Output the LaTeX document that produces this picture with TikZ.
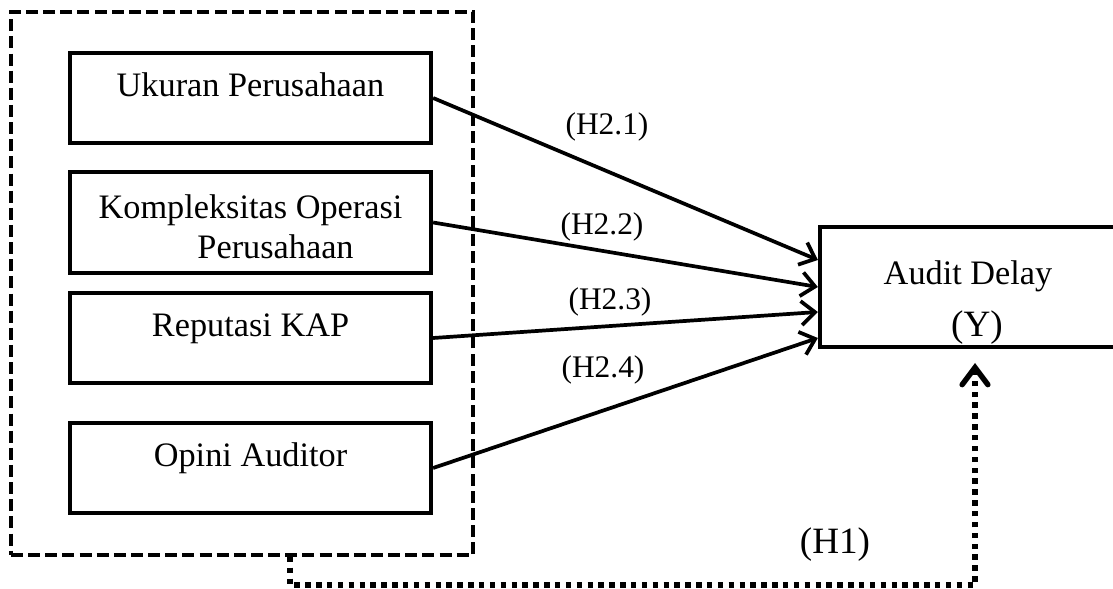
\documentclass[tikz,border=0pt]{standalone}
\usepackage{fontspec}
\setmainfont{Liberation Serif}
\usetikzlibrary{arrows.meta}

\tikzset{
  varbox/.style={draw,line width=1.5pt,minimum width=126.35pt,minimum height=31.5pt,inner sep=0pt},
  grpbox/.style={draw,line width=1.3pt,dash pattern=on 4.2pt off 1.8pt,minimum width=161.7pt,minimum height=190.05pt,inner sep=0pt},
  ybox/.style={draw,line width=1.5pt,minimum width=106.75pt,minimum height=42pt,inner sep=0pt},
  txt/.style={anchor=base,inner sep=0pt,font=\fontsize{12}{14}\selectfont},
  hlab/.style={anchor=base,inner sep=0pt,font=\fontsize{11}{13}\selectfont},
  hyp/.style={-{Straight Barb[length=4.8pt,width=8.4pt]},line width=1.3pt},
  h1path/.style={-{Straight Barb[length=6pt,width=9pt,line cap=round]},line width=1.9pt,dash pattern=on 1.9pt off 1.9pt}
}

\begin{document}
\begin{tikzpicture}[x=0.35pt,y=-0.35pt]
  \clip (0,0) rectangle (1113,589);
  % independent variables
  \node[grpbox] (grp) at (242,283.5) {};
  \node[varbox] (ukuran) at (250.5,98) {};
  \node[varbox,minimum height=35.35pt] (kompleks) at (250.5,222.5) {};
  \node[varbox] (kap) at (250.5,338) {};
  \node[varbox] (opini) at (250.5,468) {};
  \node[txt] (ukurantxt) at (250.5,97) {Ukuran Perusahaan};
  \node[txt,anchor=center,align=left] (komplekstxt) at (250.5,227) {Kompleksitas Operasi\\\hspace*{34.6pt}Perusahaan};
  \node[txt] (kaptxt) at (250.5,337) {Reputasi KAP};
  \node[txt] (opinitxt) at (250.5,467) {Opini Auditor};
  % dependent variable
  \node[ybox] (audit) at (972.5,287) {};
  \node[txt] (audittxt) at (968,285) {Audit Delay};
  \node[txt,font=\fontsize{13}{15}\selectfont] (ytxt) at (977,337) {(Y)};
  % hypotheses
  \draw[hyp] (ukuran.east) -- ([yshift=9.45pt]audit.west);
  \draw[hyp] (kompleks.east) -- (audit.west);
  \draw[hyp] (kap.east) -- ([yshift=-8.75pt]audit.west);
  \draw[hyp] (opini.east) -- ([yshift=-17.85pt]audit.west);
  \node[hlab] (h21) at (607,135) {(H2.1)};
  \node[hlab] (h22) at (602,235) {(H2.2)};
  \node[hlab] (h23) at (610,310) {(H2.3)};
  \node[hlab] (h24) at (603,378) {(H2.4)};
  \coordinate (h1bend) at (290,585);
  \coordinate (h1tip) at (975,363);
  \draw[h1path] (grp.south -| h1bend) -- (h1bend) -| (h1tip);
  \node[txt,font=\fontsize{13}{15}\selectfont] (h1) at (835,553) {(H1)};
\end{tikzpicture}
\end{document}
